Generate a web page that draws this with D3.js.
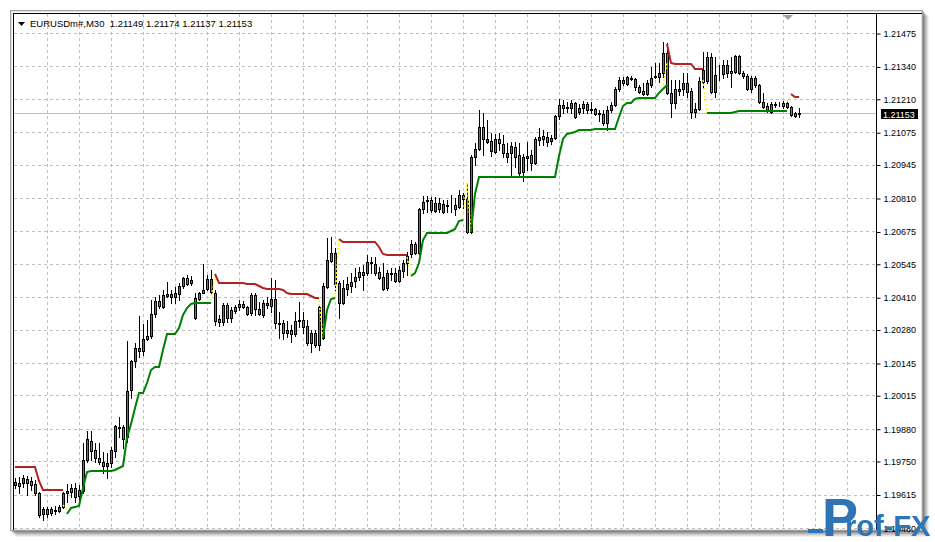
<!DOCTYPE html>
<html><head><meta charset="utf-8">
<script src="https://cdn.jsdelivr.net/npm/d3@7"></script>
<style>body{margin:0;background:#fff;overflow:hidden}svg{display:block}</style>
</head><body><svg id="chart" width="935" height="542"></svg>
<script>
// ---------- data ----------
const symbolLabel = "EURUSDm#,M30";
const lastBar = [1.21149, 1.21174, 1.21137, 1.21153]; // O H L C of last bar
const currentPrice = 1.21153;
const tickValues = [1.21475,1.21340,1.21210,1.21075,1.20945,1.20810,1.20675,1.20545,1.20410,1.20280,1.20145,1.20015,1.19880,1.19750,1.19615,1.19480];

const open = [1.19653,1.19649,1.19661,1.19678,1.19669,1.19657,1.19621,1.19536,1.19557,1.19540,1.19549,1.19549,1.19565,1.19621,1.19625,1.19641,1.19609,1.19629,1.19754,1.19831,
1.19794,1.19762,1.19746,1.19730,1.19742,1.19790,1.19887,1.19887,1.19847,1.20036,1.20153,1.20205,1.20193,1.20242,1.20254,1.20342,1.20395,1.20371,1.20415,1.20411,
1.20411,1.20423,1.20455,1.20488,1.20467,1.20326,1.20403,1.20427,1.20443,1.20431,1.20427,1.20322,1.20310,1.20379,1.20326,1.20355,1.20371,1.20383,1.20371,1.20346,
1.20419,1.20363,1.20338,1.20379,1.20375,1.20403,1.20306,1.20306,1.20266,1.20278,1.20262,1.20318,1.20318,1.20294,1.20226,1.20266,1.20218,1.20246,1.20451,1.20556,
1.20588,1.20467,1.20387,1.20443,1.20455,1.20475,1.20492,1.20500,1.20508,1.20552,1.20544,1.20512,1.20492,1.20447,1.20508,1.20508,1.20475,1.20516,1.20548,1.20584,
1.20625,1.20588,1.20766,1.20798,1.20802,1.20758,1.20766,1.20753,1.20782,1.20782,1.20782,1.20774,1.20806,1.20806,1.20673,1.20975,1.21007,1.21096,1.21036,1.21040,
1.20995,1.21048,1.21028,1.20991,1.20991,1.21016,1.20983,1.20915,1.20971,1.20983,1.20951,1.21044,1.21060,1.21036,1.21040,1.21052,1.21140,1.21173,1.21173,1.21173,
1.21193,1.21157,1.21173,1.21189,1.21169,1.21169,1.21153,1.21149,1.21112,1.21165,1.21185,1.21249,1.21285,1.21269,1.21293,1.21289,1.21257,1.21241,1.21229,1.21265,
1.21301,1.21297,1.21314,1.21394,1.21233,1.21193,1.21241,1.21249,1.21273,1.21241,1.21157,1.21169,1.21277,1.21281,1.21378,1.21237,1.21310,1.21310,1.21314,1.21314,
1.21318,1.21382,1.21314,1.21301,1.21249,1.21293,1.21265,1.21197,1.21181,1.21157,1.21185,1.21189,1.21193,1.21193,1.21177,1.21140,1.21149];
const high = [1.19682,1.19686,1.19694,1.19690,1.19686,1.19674,1.19625,1.19565,1.19565,1.19565,1.19569,1.19573,1.19625,1.19657,1.19657,1.19661,1.19653,1.19823,1.19871,1.19871,
1.19823,1.19823,1.19786,1.19782,1.19806,1.19895,1.19927,1.19895,1.20234,1.20157,1.20226,1.20334,1.20302,1.20318,1.20399,1.20411,1.20419,1.20439,1.20471,1.20439,
1.20451,1.20467,1.20492,1.20500,1.20496,1.20427,1.20431,1.20544,1.20500,1.20520,1.20439,1.20338,1.20387,1.20387,1.20371,1.20379,1.20399,1.20395,1.20375,1.20427,
1.20427,1.20391,1.20399,1.20411,1.20488,1.20480,1.20350,1.20318,1.20314,1.20298,1.20350,1.20391,1.20350,1.20318,1.20278,1.20278,1.20375,1.20467,1.20649,1.20653,
1.20609,1.20475,1.20480,1.20492,1.20508,1.20528,1.20532,1.20540,1.20580,1.20572,1.20572,1.20532,1.20548,1.20520,1.20528,1.20528,1.20536,1.20560,1.20592,1.20641,
1.20633,1.20770,1.20818,1.20818,1.20814,1.20814,1.20810,1.20802,1.20802,1.20822,1.20810,1.20842,1.20830,1.20870,1.20983,1.21032,1.21165,1.21153,1.21124,1.21072,
1.21068,1.21072,1.21064,1.21032,1.21036,1.21036,1.21032,1.20987,1.21036,1.21003,1.21056,1.21092,1.21084,1.21076,1.21064,1.21145,1.21209,1.21205,1.21197,1.21205,
1.21197,1.21189,1.21201,1.21197,1.21197,1.21173,1.21165,1.21165,1.21181,1.21197,1.21257,1.21297,1.21297,1.21301,1.21301,1.21293,1.21265,1.21273,1.21285,1.21338,
1.21354,1.21354,1.21439,1.21435,1.21285,1.21285,1.21285,1.21314,1.21314,1.21253,1.21193,1.21297,1.21398,1.21398,1.21394,1.21378,1.21346,1.21366,1.21366,1.21378,
1.21386,1.21386,1.21322,1.21310,1.21301,1.21301,1.21269,1.21233,1.21193,1.21197,1.21197,1.21197,1.21201,1.21205,1.21181,1.21157,1.21174];
const low = [1.19641,1.19621,1.19645,1.19613,1.19633,1.19613,1.19524,1.19512,1.19524,1.19532,1.19536,1.19545,1.19561,1.19585,1.19605,1.19585,1.19585,1.19621,1.19746,1.19754,
1.19746,1.19738,1.19702,1.19682,1.19726,1.19766,1.19847,1.19802,1.19827,1.20004,1.20129,1.20169,1.20177,1.20238,1.20246,1.20330,1.20367,1.20367,1.20411,1.20387,
1.20387,1.20399,1.20447,1.20459,1.20459,1.20322,1.20399,1.20427,1.20439,1.20427,1.20298,1.20294,1.20298,1.20310,1.20310,1.20346,1.20359,1.20367,1.20338,1.20338,
1.20338,1.20338,1.20330,1.20367,1.20350,1.20286,1.20246,1.20242,1.20250,1.20230,1.20254,1.20290,1.20266,1.20218,1.20189,1.20209,1.20197,1.20242,1.20447,1.20552,
1.20439,1.20326,1.20383,1.20419,1.20431,1.20451,1.20480,1.20439,1.20500,1.20508,1.20500,1.20484,1.20439,1.20439,1.20480,1.20471,1.20471,1.20492,1.20500,1.20572,
1.20584,1.20584,1.20749,1.20753,1.20753,1.20753,1.20753,1.20749,1.20753,1.20753,1.20741,1.20770,1.20770,1.20669,1.20669,1.20942,1.21003,1.20983,1.21032,1.20979,
1.20991,1.21003,1.20975,1.20955,1.20895,1.20935,1.20903,1.20879,1.20923,1.20923,1.20947,1.21024,1.21024,1.21020,1.21028,1.21048,1.21128,1.21153,1.21157,1.21153,
1.21132,1.21149,1.21153,1.21153,1.21153,1.21145,1.21120,1.21104,1.21084,1.21157,1.21181,1.21241,1.21265,1.21265,1.21285,1.21245,1.21233,1.21225,1.21225,1.21257,
1.21293,1.21277,1.21297,1.21229,1.21136,1.21173,1.21225,1.21225,1.21217,1.21132,1.21136,1.21165,1.21253,1.21273,1.21233,1.21217,1.21285,1.21293,1.21297,1.21257,
1.21314,1.21310,1.21293,1.21245,1.21237,1.21257,1.21193,1.21173,1.21157,1.21153,1.21177,1.21181,1.21173,1.21173,1.21140,1.21136,1.21137];
const close = [1.19665,1.19661,1.19682,1.19661,1.19653,1.19621,1.19532,1.19557,1.19536,1.19557,1.19553,1.19565,1.19621,1.19629,1.19641,1.19605,1.19633,1.19754,1.19839,1.19790,
1.19762,1.19746,1.19730,1.19742,1.19794,1.19891,1.19883,1.19839,1.20032,1.20153,1.20205,1.20193,1.20242,1.20254,1.20342,1.20395,1.20375,1.20419,1.20423,1.20423,
1.20427,1.20455,1.20488,1.20463,1.20480,1.20407,1.20427,1.20439,1.20484,1.20484,1.20314,1.20310,1.20379,1.20326,1.20359,1.20371,1.20383,1.20371,1.20342,1.20419,
1.20363,1.20342,1.20387,1.20387,1.20403,1.20306,1.20302,1.20266,1.20278,1.20262,1.20314,1.20314,1.20290,1.20226,1.20266,1.20218,1.20371,1.20455,1.20560,1.20588,
1.20463,1.20387,1.20447,1.20463,1.20471,1.20492,1.20512,1.20512,1.20552,1.20548,1.20508,1.20488,1.20443,1.20508,1.20504,1.20475,1.20520,1.20548,1.20576,1.20625,
1.20588,1.20766,1.20794,1.20802,1.20762,1.20790,1.20790,1.20786,1.20778,1.20780,1.20766,1.20822,1.20822,1.20673,1.20975,1.21007,1.21096,1.21048,1.21048,1.20999,
1.21048,1.21032,1.20991,1.20975,1.21020,1.20975,1.20911,1.20975,1.20979,1.20951,1.21048,1.21056,1.21048,1.21056,1.21052,1.21140,1.21185,1.21185,1.21177,1.21193,
1.21136,1.21173,1.21189,1.21165,1.21165,1.21149,1.21149,1.21112,1.21165,1.21185,1.21249,1.21285,1.21273,1.21297,1.21289,1.21257,1.21237,1.21229,1.21273,1.21293,
1.21297,1.21314,1.21394,1.21233,1.21193,1.21249,1.21249,1.21273,1.21237,1.21157,1.21169,1.21281,1.21326,1.21378,1.21237,1.21306,1.21308,1.21346,1.21346,1.21322,
1.21382,1.21314,1.21301,1.21249,1.21293,1.21265,1.21197,1.21177,1.21165,1.21189,1.21189,1.21187,1.21181,1.21177,1.21144,1.21153,1.21153];

// indicator: [first bar index, values...]
const redSegments = [
  [0,   [1.19726,1.19726,1.19726,1.19726,1.19726,1.19726,1.19669,1.19633,1.19633,1.19633,1.19633,1.19633,1.19633]],
  [50,  [1.20504,1.20467,1.20467,1.20467,1.20467,1.20467,1.20467,1.20467,1.20463,1.20463,1.20463,1.20455,1.20447,1.20443,1.20443,1.20443,1.20443,1.20439,1.20427,1.20423,1.20423,1.20423,1.20423,1.20423,1.20415,1.20407,1.20407]],
  [81,  [1.20645,1.20633,1.20633,1.20633,1.20633,1.20633,1.20633,1.20633,1.20633,1.20633,1.20613,1.20584,1.20580,1.20580,1.20580,1.20580,1.20580,1.20580]],
  [163, [1.21431,1.21354,1.21350,1.21350,1.21350,1.21350,1.21350,1.21330,1.21330,1.21330]],
  [194, [1.21229,1.21217,1.21217]]
];
const greenSegments = [
  [13,  [1.19536,1.19561,1.19565,1.19569,1.19641,1.19706,1.19710,1.19710,1.19710,1.19710,1.19710,1.19710,1.19714,1.19722,1.19730,1.19843,1.19899,1.19964,1.20024,1.20024,1.20064,1.20117,1.20129,1.20129,1.20197,1.20262,1.20262,1.20262,1.20286,1.20338,1.20367,1.20383,1.20387,1.20387,1.20387,1.20387,1.20387]],
  [77,  [1.20246,1.20359,1.20403,1.20407]],
  [99,  [1.20496,1.20508,1.20548,1.20641,1.20669,1.20669,1.20669,1.20669,1.20669,1.20669,1.20677,1.20685,1.20717,1.20721]],
  [114, [1.20673,1.20826,1.20895,1.20895,1.20895,1.20895,1.20895,1.20895,1.20895,1.20895,1.20895,1.20895,1.20895,1.20895,1.20895,1.20895,1.20895,1.20895,1.20895,1.20895,1.20895,1.20895,1.20979,1.21048,1.21068,1.21072,1.21076,1.21084,1.21084,1.21084,1.21084,1.21088,1.21088,1.21088,1.21088,1.21088,1.21088,1.21136,1.21181,1.21193,1.21193,1.21209,1.21213,1.21213,1.21213,1.21213,1.21213,1.21233,1.21249,1.21265]],
  [173, [1.21153,1.21153,1.21153,1.21153,1.21153,1.21153,1.21153,1.21157,1.21161,1.21161,1.21161,1.21161,1.21161,1.21161,1.21161,1.21161,1.21161,1.21161,1.21161,1.21161,1.21161]]
];
const switchSegments = [
  [12,  [1.19573,1.19553]],
  [49,  [1.20399,1.20488]],
  [76,  [1.20399,1.20246]],
  [80,  [1.20407,1.20645]],
  [98,  [1.20572,1.20500]],
  [112, [1.20741,1.20870,1.20673]],
  [162, [1.21265,1.21354]],
  [172, [1.21285,1.21153]],
  [193, [1.21197,1.21225]]
];

// ---------- drawing ----------
const FONT = "Tahoma, 'Liberation Sans', Arial, sans-serif";
const svg = d3.select("#chart");
const plot = {left: 13, top: 13, right: 876, bottom: 530};
const nBars = open.length;
const bars = d3.range(nBars).map(i => ({i, o: open[i], h: high[i], l: low[i], c: close[i]}));

const x = d3.scaleLinear().domain([0, nBars - 1]).range([15, 799]);
const y = d3.scaleLinear().domain([1.19480, 1.21475]).range([528, 33]);
const px = i => Math.round(x(i));
const py = v => Math.round(y(v));

// window shadow + frame
const shadow = svg.append("g");
[0.05,0.07,0.09,0.11,0.13,0.15].forEach((a, k) => {
  shadow.append("rect").attr("x", 10 + 6 - k).attr("y", 10 + 6 - k).attr("width", 913).attr("height", 521)
    .attr("fill", `rgba(0,0,0,${a})`);
});
svg.append("rect").attr("x", 10).attr("y", 10).attr("width", 913).attr("height", 521).attr("fill", "#fff");
svg.append("rect").attr("x", 10.5).attr("y", 10.5).attr("width", 912).attr("height", 520)
  .attr("fill", "none").attr("stroke", "#a0a0a0");
svg.append("rect").attr("x", 11.5).attr("y", 11.5).attr("width", 910).attr("height", 518)
  .attr("fill", "none").attr("stroke", "#e3e3e3");

// grid
const grid = svg.append("g").attr("stroke", "#c0c0c0").attr("stroke-dasharray", "3,3").attr("shape-rendering", "crispEdges");
grid.selectAll("line.h").data(tickValues).join("line").attr("class", "h")
  .attr("x1", plot.left + 1).attr("x2", plot.right)
  .attr("y1", d => py(d) + 0.5).attr("y2", d => py(d) + 0.5);
const vGrid = d3.range(8, 210, 8);
grid.selectAll("line.v").data(vGrid).join("line").attr("class", "v")
  .attr("x1", d => px(d) + 0.5).attr("x2", d => px(d) + 0.5)
  .attr("y1", plot.top + 1).attr("y2", plot.bottom);

// current price line
svg.append("line").attr("x1", plot.left + 1).attr("x2", plot.right)
  .attr("y1", py(currentPrice) + 0.5).attr("y2", py(currentPrice) + 0.5)
  .attr("stroke", "#c0c0c0").attr("shape-rendering", "crispEdges");

// candles
const cg = svg.append("g").attr("shape-rendering", "crispEdges");
cg.selectAll("line.wick").data(bars).join("line").attr("class", "wick")
  .attr("x1", d => px(d.i) + 0.5).attr("x2", d => px(d.i) + 0.5)
  .attr("y1", d => py(d.h)).attr("y2", d => py(d.l) + 1)
  .attr("stroke", "#000");
cg.selectAll("rect.body").data(bars).join("rect").attr("class", "body")
  .attr("x", d => px(d.i) - 0.5)
  .attr("y", d => py(Math.max(d.o, d.c)) + 0.5)
  .attr("width", 2)
  .attr("height", d => Math.max(0, py(Math.min(d.o, d.c)) - py(Math.max(d.o, d.c))))
  .attr("fill", d => d.c >= d.o ? "#2e8b8b" : "#cd5c5c")
  .attr("stroke", "#000");

// indicator lines
function segData(segs) {
  return segs.map(([s, vals]) => vals.map((v, k) => [s + k, v]));
}
const line = d3.line().x(d => px(d[0])).y(d => py(d[1]));
const ig = svg.append("g").attr("fill", "none");
ig.selectAll("path.sw").data(segData(switchSegments)).join("path").attr("class", "sw")
  .attr("d", line).attr("stroke", "#ffff00").attr("stroke-width", 1.5).attr("stroke-dasharray", "2,2");
ig.selectAll("path.red").data(segData(redSegments)).join("path").attr("class", "red")
  .attr("d", line).attr("stroke", "#b22222").attr("stroke-width", 2);
ig.selectAll("path.green").data(segData(greenSegments)).join("path").attr("class", "green")
  .attr("d", line).attr("stroke", "#008000").attr("stroke-width", 2);

// frame lines
const fr = svg.append("g").attr("stroke", "#000").attr("shape-rendering", "crispEdges");
fr.append("line").attr("x1", 13).attr("x2", 922).attr("y1", 13.5).attr("y2", 13.5);
fr.append("line").attr("x1", 13.5).attr("x2", 13.5).attr("y1", 13).attr("y2", 530);
fr.append("line").attr("x1", plot.right + 0.5).attr("x2", plot.right + 0.5).attr("y1", 13).attr("y2", 530);

// price axis
const axis = d3.axisRight(y).tickValues(tickValues).tickSize(4).tickPadding(3).tickFormat(d3.format(".5f"));
const ag = svg.append("g").attr("transform", `translate(${plot.right + 0.5},0.5)`).call(axis);
ag.select(".domain").remove();
ag.selectAll(".tick line").attr("stroke", "#000");
ag.selectAll(".tick text").attr("font-family", FONT).attr("font-size", 9).attr("fill", "#000");

// current price label
const cy = py(currentPrice);
svg.append("rect").attr("x", 881).attr("y", cy - 4).attr("width", 37).attr("height", 10).attr("fill", "#000");
svg.append("text").attr("x", 883).attr("y", cy + 4.5).text(d3.format(".5f")(currentPrice))
  .attr("font-family", FONT).attr("font-size", 9).attr("fill", "#fff");

// header
svg.append("path").attr("d", "M18,22 L25,22 L21.5,26 Z").attr("fill", "#000");
svg.append("text").attr("x", 30).attr("y", 27)
  .attr("font-family", FONT).attr("font-size", 9.5).attr("fill", "#000")
  .attr("xml:space", "preserve")
  .text(symbolLabel + "  " + lastBar.map(d3.format(".5f")).join(" "));

// chart shift marker
svg.append("path").attr("d", "M783,15 L793,15 L788,20 Z").attr("fill", "#a0a0a0");

// watermark logo
const logo = svg.append("g").attr("fill", "#2f74b5").attr("font-family", "'Liberation Sans', Arial, sans-serif").attr("font-weight", "bold");
logo.append("rect").attr("x", 808).attr("y", 529).attr("width", 15).attr("height", 4);
logo.append("text").attr("x", 822).attr("y", 536).attr("font-size", 54).text("P");
logo.append("text").attr("x", 845).attr("y", 536).attr("font-size", 29).text("rof-FX");
</script>
</body></html>
